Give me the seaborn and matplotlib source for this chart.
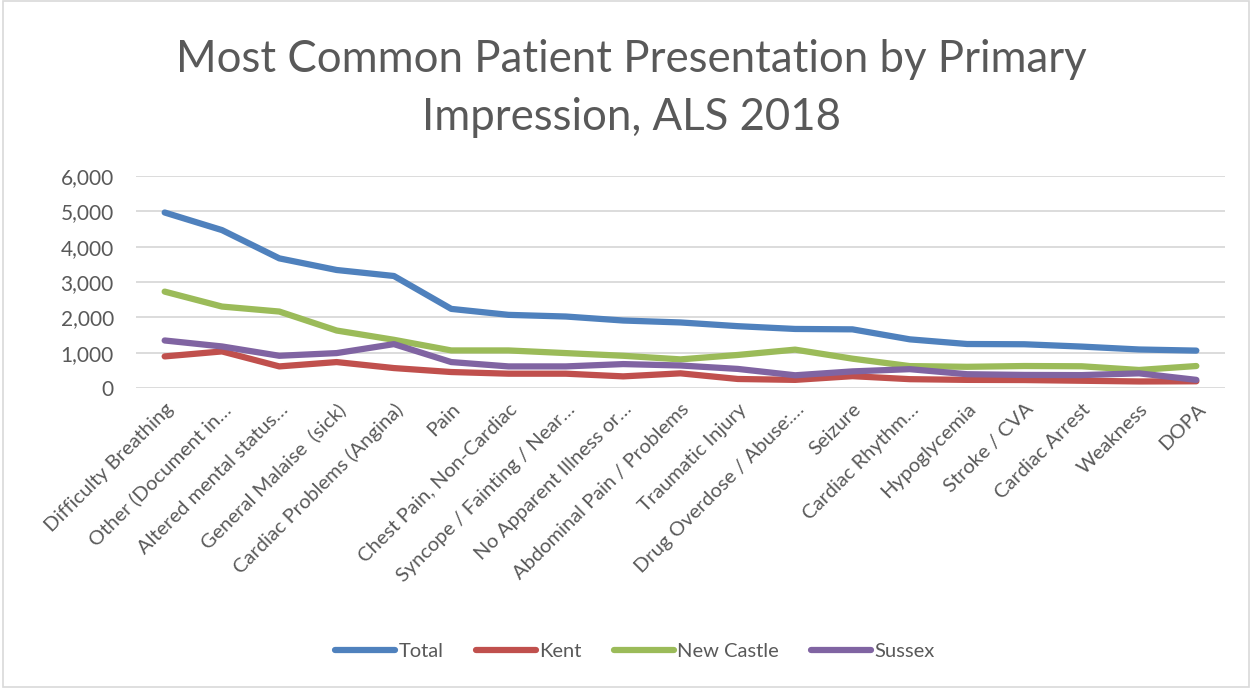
import matplotlib
matplotlib.use("Agg")
import matplotlib.pyplot as plt
import seaborn as sns
import pandas as pd
import numpy as np
from matplotlib.patches import Rectangle

categories = [
    "Difficulty Breathing", "Other (Document in…", "Altered mental status…",
    "General Malaise  (sick)", "Cardiac Problems (Angina)", "Pain",
    "Chest Pain, Non-Cardiac", "Syncope / Fainting / Near…", "No Apparent Illness or…",
    "Abdominal Pain / Problems", "Traumatic Injury", "Drug Overdose / Abuse:…",
    "Seizure", "Cardiac Rhythm…", "Hypoglycemia", "Stroke / CVA",
    "Cardiac Arrest", "Weakness", "DOPA",
]
total = [4967, 4469, 3669, 3340, 3170, 2239, 2070, 2023, 1910, 1855, 1750, 1671,
         1660, 1377, 1245, 1238, 1172, 1090, 1058]
kent = [894, 1035, 611, 734, 564, 452, 405, 405, 329, 415, 255, 230,
        335, 250, 230, 225, 205, 185, 190]
new_castle = [2728, 2305, 2164, 1627, 1364, 1063, 1063, 988, 912, 810, 935, 1086,
              830, 620, 600, 622, 615, 510, 622]
sussex = [1345, 1176, 912, 988, 1242, 734, 611, 611, 677, 637, 540, 360,
          470, 533, 390, 370, 365, 415, 230]
series_names = ["Total", "Kent", "New Castle", "Sussex"]
colors = ["#4F81BD", "#C0504D", "#9BBB59", "#8064A2"]
yticks = [0, 1000, 2000, 3000, 4000, 5000, 6000]

rows = []
for name, vals in zip(series_names, [total, kent, new_castle, sussex]):
    for i, v in enumerate(vals):
        rows.append({"idx": i, "value": v, "series": name})
df = pd.DataFrame(rows)

sns.set_theme(style="white")
plt.rcParams["font.family"] = ["Lato", "DejaVu Sans"]
text_color = "#595959"

fig = plt.figure(figsize=(12.52, 6.88), dpi=100)
ax = fig.add_axes([136/1252, 1-388/688, (1225-136)/1252, (388-176)/688])

sns.lineplot(data=df, x="idx", y="value", hue="series", hue_order=series_names,
             palette=colors, linewidth=4.5, ax=ax, sort=False, legend=True,
             solid_capstyle="round", solid_joinstyle="round")

ax.set_xlim(-0.5, len(categories) - 0.5)
ax.set_ylim(0, 6000)
ax.set_yticks(yticks)
ax.set_yticklabels([f"{v:,}" for v in yticks], fontsize=15, color=text_color)
ax.set_xticks(range(len(categories)))
ax.set_xticklabels(categories, rotation=45, ha="right", rotation_mode="anchor",
                   fontsize=14.5, color=text_color)
ax.tick_params(axis="y", length=0, pad=16)
ax.tick_params(axis="x", length=0, pad=9)
ax.grid(axis="y", color="#D9D9D9", linewidth=1.3)
ax.set_axisbelow(True)
for s in ax.spines.values():
    s.set_visible(False)
ax.set_xlabel("")
ax.set_ylabel("")

handles, labels = ax.get_legend_handles_labels()
ax.legend(handles, labels, loc="center", bbox_to_anchor=(0.507, 1-651/688),
          bbox_transform=fig.transFigure, ncol=4, frameon=False, fontsize=14.5,
          handlelength=3.0, handletextpad=0.15, columnspacing=1.6,
          labelcolor=text_color)

fig.text(0.504, 1-60/688, "Most Common Patient Presentation by Primary",
         ha="center", va="center", fontsize=31.5, color=text_color)
fig.text(0.504, 1-117/688, "Impression, ALS 2018",
         ha="center", va="center", fontsize=31.5, color=text_color)

fig.patches.append(Rectangle((0.002, 0.002), 0.996, 0.996, transform=fig.transFigure,
                             fill=False, edgecolor="#D9D9D9", linewidth=1.2))

fig.savefig("out.png", dpi=100)
